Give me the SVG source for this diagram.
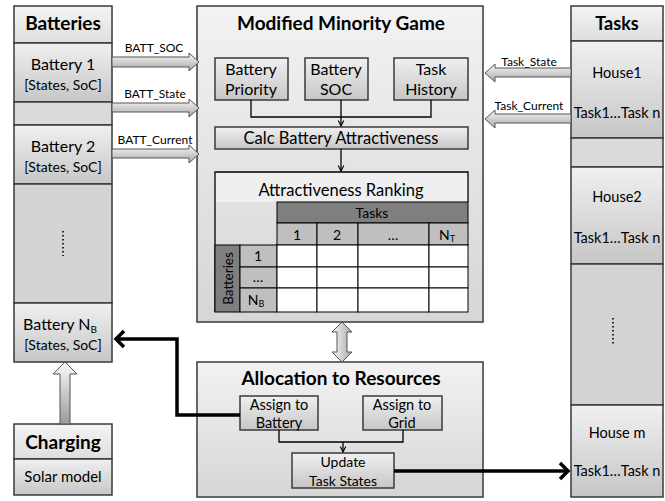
<svg xmlns="http://www.w3.org/2000/svg" width="665" height="501" viewBox="0 0 665 501">
<defs>
<linearGradient id="gBox" x1="0" y1="0" x2="0" y2="1"><stop offset="0" stop-color="#f0f0f0"/><stop offset="1" stop-color="#c6c6c6"/></linearGradient>
<linearGradient id="gBig" x1="0" y1="0" x2="0" y2="1"><stop offset="0" stop-color="#f2f2f2"/><stop offset="1" stop-color="#d6d6d6"/></linearGradient>
<linearGradient id="gHead" x1="0" y1="0" x2="0" y2="1"><stop offset="0" stop-color="#f4f4f4"/><stop offset="1" stop-color="#dedede"/></linearGradient>
<linearGradient id="gArrH" x1="0" y1="0" x2="0" y2="1"><stop offset="0" stop-color="#f8f8f8"/><stop offset="1" stop-color="#a8a8a8"/></linearGradient>
<linearGradient id="gArrV" x1="0" y1="0" x2="1" y2="0"><stop offset="0" stop-color="#f8f8f8"/><stop offset="1" stop-color="#a8a8a8"/></linearGradient>
<linearGradient id="gArrU" x1="0" y1="0" x2="0" y2="1"><stop offset="0" stop-color="#fafafa"/><stop offset="1" stop-color="#9a9a9a"/></linearGradient>
<marker id="ah" viewBox="0 0 10 10" refX="9" refY="5" markerWidth="7" markerHeight="7" orient="auto" markerUnits="userSpaceOnUse"><path d="M1,1 L9,5 L1,9" fill="none" stroke="#000" stroke-width="1.6"/></marker>
</defs>
<style>
.bx{stroke:#3a3a3a;stroke-width:1.5}
.t{font-family:Lato,"Liberation Sans",sans-serif;fill:#000;text-anchor:middle}
.b{font-weight:bold}
.thin{fill:none;stroke:#000;stroke-width:1.3}
.thick{fill:none;stroke:#000;stroke-width:3.5}
.ha{stroke:#555;stroke-width:1}
.cell{fill:#fff;stroke:#000;stroke-width:1}
</style>
<rect width="665" height="501" fill="#fff"/>

<g id="batteries">
<rect class="bx" x="14" y="6" width="98" height="37" fill="url(#gHead)"/>
<text class="t b" x="63" y="30" font-size="19">Batteries</text>
<rect class="bx" x="14" y="43" width="98" height="59" fill="url(#gBox)"/>
<text class="t" x="63" y="70" font-size="16">Battery 1</text>
<text class="t" x="63" y="90" font-size="14">[States, SoC]</text>
<rect class="bx" x="14" y="102" width="98" height="23" fill="#dadada"/>
<rect class="bx" x="14" y="125" width="98" height="59" fill="url(#gBox)"/>
<text class="t" x="63" y="152" font-size="16">Battery 2</text>
<text class="t" x="63" y="172" font-size="14">[States, SoC]</text>
<rect class="bx" x="14" y="184" width="98" height="119" fill="#d3d3d3"/>
<line x1="63" y1="231" x2="63" y2="256" stroke="#000" stroke-width="1.6" stroke-dasharray="1.6 2.4"/>
<rect class="bx" x="14" y="303" width="98" height="59" fill="url(#gBox)"/>
<text class="t" x="60" y="330" font-size="16">Battery N<tspan font-size="10" dy="3">B</tspan></text>
<text class="t" x="63" y="350" font-size="14">[States, SoC]</text>
</g>

<g id="charging">
<rect class="bx" x="14" y="424" width="98" height="35" fill="url(#gHead)"/>
<text class="t b" x="63" y="449" font-size="19">Charging</text>
<rect class="bx" x="14" y="459" width="98" height="36" fill="url(#gBox)"/>
<text class="t" x="63" y="482" font-size="15">Solar model</text>
</g>

<g id="tasks">
<rect class="bx" x="571" y="6" width="92" height="35" fill="url(#gHead)"/>
<text class="t b" x="617" y="30" font-size="18">Tasks</text>
<rect class="bx" x="571" y="41" width="92" height="97" fill="url(#gBox)"/>
<text class="t" x="617" y="78" font-size="14.5">House1</text>
<text class="t" x="617" y="118" font-size="14.5">Task1…Task n</text>
<rect class="bx" x="571" y="138" width="92" height="29" fill="#dadada"/>
<rect class="bx" x="571" y="167" width="92" height="97" fill="url(#gBox)"/>
<text class="t" x="617" y="202" font-size="14.5">House2</text>
<text class="t" x="617" y="243" font-size="14.5">Task1…Task n</text>
<rect class="bx" x="571" y="264" width="92" height="141" fill="#d3d3d3"/>
<line x1="613" y1="318" x2="613" y2="344" stroke="#000" stroke-width="1.6" stroke-dasharray="1.6 2.4"/>
<rect class="bx" x="571" y="405" width="92" height="92" fill="url(#gBox)"/>
<text class="t" x="617" y="438" font-size="14.5">House m</text>
<text class="t" x="617" y="476" font-size="14.5">Task1…Task n</text>
</g>

<g id="mmg">
<rect class="bx" x="197" y="6" width="286" height="316" fill="url(#gBig)"/>
<text class="t b" x="341" y="30" font-size="19">Modified Minority Game</text>
<g id="batt-priority">
<rect class="bx" x="215" y="58" width="73" height="42" fill="url(#gBox)"/>
<text class="t" x="251" y="75" font-size="16">Battery</text>
<text class="t" x="251" y="95" font-size="16">Priority</text>
</g>
<g id="batt-soc">
<rect class="bx" x="305" y="58" width="63" height="42" fill="url(#gBox)"/>
<text class="t" x="336" y="75" font-size="16">Battery</text>
<text class="t" x="336" y="95" font-size="16">SOC</text>
</g>
<g id="task-history">
<rect class="bx" x="394" y="58" width="74" height="42" fill="url(#gBox)"/>
<text class="t" x="431" y="75" font-size="16">Task</text>
<text class="t" x="431" y="95" font-size="16">History</text>
</g>
<g id="calc">
<rect class="bx" x="215" y="127" width="253" height="22" fill="url(#gBox)"/>
<text class="t" x="341" y="144" font-size="16.5">Calc Battery Attractiveness</text>
</g>
<g id="ranking">
<rect x="215" y="172" width="253" height="30" fill="#efefef"/>
<path d="M215,312 V172 H468 V202" fill="none" stroke="#000" stroke-width="1.3"/>
<text class="t" x="341" y="196" font-size="16.5">Attractiveness Ranking</text>
<rect x="277" y="202" width="191" height="21" fill="#7f7f7f" stroke="#000" stroke-width="1"/>
<text class="t" x="372" y="218" font-size="14">Tasks</text>
<g fill="#bfbfbf" stroke="#000" stroke-width="1">
<rect x="277" y="223" width="40" height="22"/>
<rect x="317" y="223" width="41" height="22"/>
<rect x="358" y="223" width="71" height="22"/>
<rect x="429" y="223" width="39" height="22"/>
</g>
<text class="t" x="297" y="240" font-size="14">1</text>
<text class="t" x="337" y="240" font-size="14">2</text>
<text class="t" x="393" y="240" font-size="14">…</text>
<text class="t" x="447" y="240" font-size="14">N<tspan font-size="9" dy="2">T</tspan></text>
<rect x="215" y="245" width="25" height="67" fill="#7f7f7f" stroke="#000" stroke-width="1"/>
<text class="t" x="0" y="0" font-size="13.5" transform="translate(232.5,278.5) rotate(-90)">Batteries</text>
<g fill="#bfbfbf" stroke="#000" stroke-width="1">
<rect x="240" y="245" width="37" height="22"/>
<rect x="240" y="267" width="37" height="21"/>
<rect x="240" y="288" width="37" height="24"/>
</g>
<text class="t" x="258" y="261" font-size="14">1</text>
<text class="t" x="258" y="282" font-size="14">…</text>
<text class="t" x="256" y="305" font-size="14">N<tspan font-size="9" dy="2">B</tspan></text>
<g class="cell">
<rect x="277" y="245" width="40" height="22"/><rect x="317" y="245" width="41" height="22"/><rect x="358" y="245" width="71" height="22"/><rect x="429" y="245" width="39" height="22"/>
<rect x="277" y="267" width="40" height="21"/><rect x="317" y="267" width="41" height="21"/><rect x="358" y="267" width="71" height="21"/><rect x="429" y="267" width="39" height="21"/>
<rect x="277" y="288" width="40" height="24"/><rect x="317" y="288" width="41" height="24"/><rect x="358" y="288" width="71" height="24"/><rect x="429" y="288" width="39" height="24"/>
</g>
</g>
</g>

<g id="allocation">
<rect class="bx" x="197" y="362" width="286" height="135" fill="url(#gBig)"/>
<text class="t b" x="341" y="385" font-size="19">Allocation to Resources</text>
<g id="assign-battery">
<rect class="bx" x="240" y="396" width="78" height="34" fill="url(#gBox)"/>
<text class="t" x="279" y="410" font-size="14.5">Assign to</text>
<text class="t" x="279" y="428" font-size="14.5">Battery</text>
</g>
<g id="assign-grid">
<rect class="bx" x="363" y="396" width="79" height="34" fill="url(#gBox)"/>
<text class="t" x="402" y="410" font-size="14.5">Assign to</text>
<text class="t" x="402" y="428" font-size="14.5">Grid</text>
</g>
<g id="update">
<rect class="bx" x="292" y="453" width="102" height="35" fill="url(#gBox)"/>
<text class="t" x="343" y="467" font-size="14">Update</text>
<text class="t" x="343" y="486" font-size="14">Task States</text>
</g>
</g>

<g id="connectors">
<path class="thin" d="M251,100 V117 H431 V100 M341,100 V126" marker-end="url(#ah)"/>
<path class="thin" d="M341,149 V171" marker-end="url(#ah)"/>
<path class="thin" d="M279,430 V442 H403 V430 M343,442 V452" marker-end="url(#ah)"/>
<path class="thick" d="M240,415 H177 V339 H116"/>
<path d="M124,331 L116,339 L124,347" fill="none" stroke="#000" stroke-width="3.5"/>
<path class="thick" d="M394,471 H568"/>
<path d="M560,463 L568,471 L560,479" fill="none" stroke="#000" stroke-width="3.5"/>
<polygon class="ha" fill="url(#gArrH)" points="112,57 189,57 189,53 199,62 189,71 189,67 112,67"/>
<polygon class="ha" fill="url(#gArrH)" points="112,103 189,103 189,99 199,108 189,117 189,112 112,112"/>
<polygon class="ha" fill="url(#gArrH)" points="112,149 189,149 189,145 199,154 189,163 189,158 112,158"/>
<polygon class="ha" fill="url(#gArrH)" points="571,68 495,68 495,64 485,73 495,82 495,77 571,77"/>
<polygon class="ha" fill="url(#gArrH)" points="571,114 495,114 495,110 485,119 495,128 495,123 571,123"/>
<polygon class="ha" fill="url(#gArrV)" points="342,322 352,332 347,332 347,352 352,352 342,362 332,352 337,352 337,332 332,332"/>
<polygon class="ha" fill="url(#gArrU)" points="60,424 60,374 53,374 65,362 77,374 70,374 70,424"/>
<text class="t" x="154" y="52" font-size="12">BATT_SOC</text>
<text class="t" x="155" y="98" font-size="12">BATT_State</text>
<text class="t" x="155" y="144" font-size="12">BATT_Current</text>
<text class="t" x="529" y="66" font-size="12">Task_State</text>
<text class="t" x="529" y="110" font-size="12">Task_Current</text>
</g>
</svg>
